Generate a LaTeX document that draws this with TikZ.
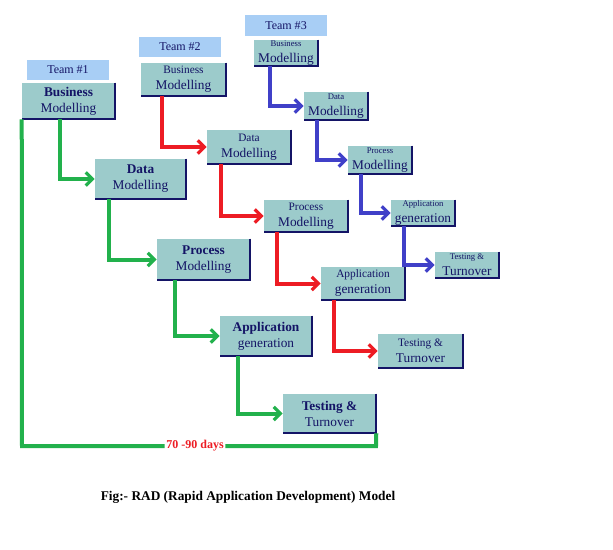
\documentclass[tikz,border=0pt]{standalone}
\usepackage{fontspec}
\setmainfont{Liberation Serif}
\usetikzlibrary{arrows.meta}
\definecolor{boxfill}{HTML}{9CCBCB}
\definecolor{labfill}{HTML}{A8CEF5}
\definecolor{navy}{HTML}{141466}
\definecolor{gr}{HTML}{22B14C}
\definecolor{rd}{HTML}{ED1C24}
\definecolor{bl}{HTML}{4040C8}
\tikzset{
 box/.style={fill=boxfill,inner sep=0pt,align=center,text=navy},
 lab/.style={fill=labfill,inner sep=0pt,align=center,text=navy,font=\fontsize{9}{10}\selectfont},
 conn/.style={line width=3pt,line join=miter,-{Straight Barb[length=5pt,width=10pt,line width=2.5pt]}},
 plain/.style={line width=3pt},
 shadow/.style={draw=navy,line width=1.5pt}
}
\newcommand{\bx}[6]{% name, l,t,r,b, text/font
 \node[box,minimum width={(#4-#2)*0.75pt},minimum height={(#5-#3)*0.75pt}] (#1) at ({(#2+#4)/2},{(#3+#5)/2}) {#6};
 \draw[shadow] (#1.north east) -- (#1.south east) -- (#1.south west);}
\newcommand{\lb}[6]{%
 \node[lab,minimum width={(#4-#2)*0.75pt},minimum height={(#5-#3)*0.75pt}] (#1) at ({(#2+#4)/2},{(#3+#5)/2}) {#6};}
\begin{document}
\begin{tikzpicture}[x=0.75pt,y=-0.75pt]
\useasboundingbox (0,0) rectangle (613,549);
\fill[white] (0,0) rectangle (613,549);
% Team 1
\lb{L1}{27}{60}{109}{80}{Team \#1}
\bx{A1}{22}{83}{115}{119}{\fontsize{10}{11}\selectfont\bfseries Business\\Modelling}
\bx{A2}{95}{159}{186}{199}{\fontsize{10}{11}\selectfont\bfseries Data\\Modelling}
\bx{A3}{157}{239}{250}{280}{\fontsize{10}{11}\selectfont\bfseries Process\\Modelling}
\bx{A4}{220}{316}{312}{356}{\fontsize{10}{11}\selectfont\bfseries Application\\generation}
\bx{A5}{283}{394}{376}{433}{\fontsize{10}{11}\selectfont\bfseries Testing \&\\Turnover}
% Team 2
\lb{L2}{139}{37}{221}{57}{Team \#2}
\bx{B1}{141}{63}{226}{96}{\fontsize{8.5}{9.5}\selectfont Business\\Modelling}
\bx{B2}{207}{130}{291}{164}{\fontsize{8.5}{9.5}\selectfont Data\\Modelling}
\bx{B3}{264}{200}{348}{232}{\fontsize{8.5}{9.5}\selectfont Process\\Modelling}
\bx{B4}{321}{267}{405}{300}{\fontsize{8.5}{9.5}\selectfont Application\\generation}
\bx{B5}{378}{334}{463}{368}{\fontsize{8.5}{9.5}\selectfont Testing \&\\Turnover}
% Team 3
\lb{L3}{245}{15}{327}{36}{Team \#3}
\bx{C1}{254}{40}{318}{66}{\fontsize{6.5}{7.5}\selectfont Business\\Modelling}
\bx{C2}{304}{92}{368}{120}{\fontsize{6.5}{7.5}\selectfont Data\\Modelling}
\bx{C3}{348}{146}{412}{174}{\fontsize{6.5}{7.5}\selectfont Process\\Modelling}
\bx{C4}{391}{200}{455}{226}{\fontsize{6.5}{7.5}\selectfont Application\\generation}
\bx{C5}{435}{252}{499}{278}{\fontsize{6.5}{7.5}\selectfont Testing \&\\Turnover}
% green
\draw[conn,gr] (60,119) |- (A2.west);
\draw[conn,gr] (109,199) |- (A3.west);
\draw[conn,gr] (175,280) |- (A4.west);
\draw[conn,gr] (238,356) |- (A5.west);
% red
\draw[conn,rd] (162,96) |- (B2.west);
\draw[conn,rd] (221,164) |- (B3.west);
\draw[conn,rd] (277,232) |- (B4.west);
\draw[conn,rd] (334,300) |- (B5.west);
% blue
\draw[conn,bl] (270,66) |- (C2.west);
\draw[conn,bl] (317,120) |- (C3.west);
\draw[conn,bl] (361,174) |- (C4.west);
\draw[conn,bl] (404,226) |- (C5.west);
% overall line
\coordinate (g1) at (22,446);
\coordinate (g2) at (376,446);
\node[text=rd,font=\fontsize{9}{10}\selectfont\bfseries,fill=white,inner sep=1pt] (days) at (195,446) {70 -90 days};
\draw[plain,gr] (A1.south west) -- (g1) -- (days.west);
\draw[plain,gr] (days.east) -- (g2) -- (A5.south east);
\node[font=\fontsize{10}{11}\selectfont\bfseries] (cap) at (248,497) {Fig:- RAD (Rapid Application Development) Model};
\end{tikzpicture}
\end{document}
